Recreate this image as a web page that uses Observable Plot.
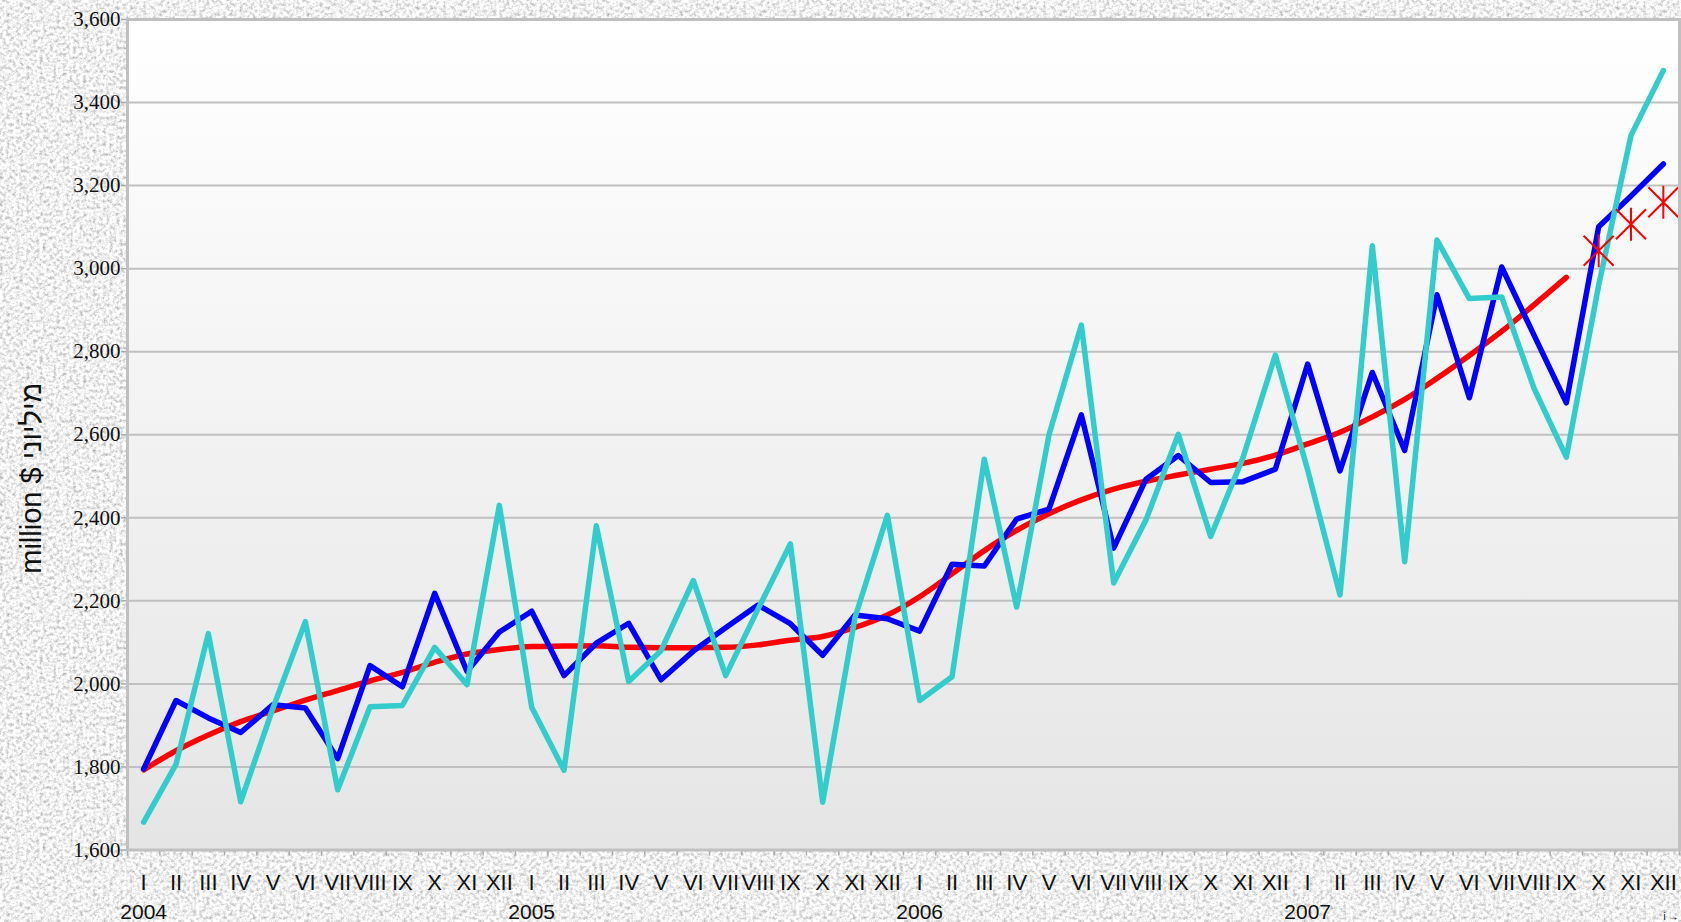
<!DOCTYPE html>
<html>
<head>
<meta charset="utf-8">
<script src="https://cdn.jsdelivr.net/npm/d3@7"></script>
<script src="https://cdn.jsdelivr.net/npm/@observablehq/plot@0.6"></script>
<style>
  html, body { margin: 0; padding: 0; overflow: hidden; }
  body { width: 1681px; height: 922px; background-color: #e2e2e2; }
  #chart svg { display: block; }
</style>
</head>
<body>
<div id="chart"></div>
<script>
// ---- data ----
const monthLabels = ["I","II","III","IV","V","VI","VII","VIII","IX","X","XI","XII"];
const years = ["2004","2005","2006","2007"];
const yTicks = [1600,1800,2000,2200,2400,2600,2800,3000,3200,3400,3600];
const yTitle = "million $ מיליוני";

// original series (turquoise)
const original = [
  1667,1806,2121,1716,1942,2150,1745,1945,1948,2088,1998,2430,
  1944,1792,2381,2006,2080,2249,2020,2180,2337,1715,2160,2406,
  1960,2017,2541,2185,2600,2864,2243,2395,2601,2355,2545,2792,
  2515,2214,3055,2294,3069,2928,2932,2712,2546,2960,3321,3477
];
// seasonally adjusted series (blue)
const seasonallyAdjusted = [
  1795,1960,1918,1883,1950,1942,1820,2044,1993,2218,2030,2125,
  2175,2020,2098,2146,2010,2079,2135,2190,2145,2069,2166,2157,
  2127,2288,2284,2397,2421,2648,2327,2493,2550,2485,2487,2517,
  2770,2513,2750,2562,2937,2689,3004,2840,2677,3101,3175,3252
];
// trend (red), I 2004 .. IX 2007
const trend = [
  1793,1839,1877,1909,1935,1961,1984,2007,2028,2052,2072,2083,
  2090,2091,2092,2088,2087,2087,2088,2094,2105,2114,2136,2166,
  2210,2265,2321,2370,2410,2443,2469,2488,2503,2517,2531,2551,
  2578,2606,2643,2685,2736,2791,2849,2913,2979
];
// trend estimates shown as star markers, X–XII 2007
const trendForecast = [3043,3107,3160];

// ---- background texture ----
const tex = `<svg xmlns='http://www.w3.org/2000/svg' width='300' height='300'>
<filter id='n' x='0' y='0' width='100%' height='100%'>
<feTurbulence type='fractalNoise' baseFrequency='0.3' numOctaves='4' seed='11' stitchTiles='stitch'/>
<feColorMatrix type='matrix' values='1.15 0 0 0 0.3  1.15 0 0 0 0.3  1.15 0 0 0 0.3  0 0 0 0 1'/>
</filter>
<rect width='300' height='300' filter='url(#n)'/>
</svg>`;
document.body.style.backgroundImage = `url("data:image/svg+xml,${encodeURIComponent(tex)}")`;

// ---- table ----
const n = original.length;
const idx = d3.range(n);
const rows = idx.map(i => ({i, original: original[i], adjusted: seasonallyAdjusted[i]}));
const trendRows = trend.map((v, i) => ({i, v}));
const forecastRows = trendForecast.map((v, k) => ({i: trend.length + k, v}));
const boundaries = d3.range(n + 1).map(k => k - 0.5);
const yearRows = years.map((y, k) => ({i: k * 12, y}));

// six-armed star symbol (X plus vertical bar)
const star = {
  draw(context, size) {
    const r = Math.sqrt(size / Math.PI);
    context.moveTo(-r, -r); context.lineTo(r, r);
    context.moveTo(-r, r); context.lineTo(r, -r);
    context.moveTo(0, -r * 1.1); context.lineTo(0, r * 1.1);
  }
};

const sans = "Liberation Sans, Arial, DejaVu Sans, sans-serif";
const serif = "Liberation Serif, Times New Roman, serif";

const plot = Plot.plot({
  width: 1681,
  height: 922,
  marginLeft: 127,
  marginRight: 2,
  marginTop: 19,
  marginBottom: 72.5,
  style: {background: "transparent", overflow: "visible"},
  x: {domain: [-0.5, n - 0.5], axis: null},
  y: {domain: [1600, 3600], axis: null},
  marks: [
    Plot.frame({fill: "url(#plotBg)"}),
    Plot.gridY(yTicks.slice(1, -1), {stroke: "#c0c0c0", strokeOpacity: 1, strokeWidth: 2}),
    Plot.axisY({ticks: yTicks, tickFormat: d3.format(","), tickSize: 6, tickPadding: 1,
      stroke: "#a8a8a8", strokeWidth: 1.5, fill: "#111", fontSize: 21, fontFamily: serif}),
    Plot.axisX({ticks: boundaries, tickFormat: () => "", tickSize: 6, stroke: "#a8a8a8", strokeWidth: 1.5}),
    Plot.text(idx, {x: d => d, text: d => monthLabels[d % 12], frameAnchor: "bottom", lineAnchor: "top",
      dy: 24, fontSize: 22, fontFamily: sans, fill: "#111", ariaLabel: "month label"}),
    Plot.text(yearRows, {x: "i", text: "y", frameAnchor: "bottom", lineAnchor: "top",
      dy: 54.5, fontSize: 21, fontFamily: sans, fill: "#111"}),
    Plot.text([yTitle], {frameAnchor: "left", textAnchor: "start", rotate: -90, dx: -96, dy: 139,
      fontSize: 29, fontFamily: sans, fill: "#111"}),
    Plot.line(trendRows, {x: "i", y: "v", stroke: "#ff0000", strokeWidth: 5.5, curve: "monotone-x",
      strokeLinecap: "round", strokeLinejoin: "round"}),
    Plot.line(rows, {x: "i", y: "adjusted", stroke: "#0000ff", strokeWidth: 5.5,
      strokeLinecap: "round", strokeLinejoin: "round"}),
    Plot.line(rows, {x: "i", y: "original", stroke: "#33cccc", strokeWidth: 5.5,
      strokeLinecap: "round", strokeLinejoin: "round"}),
    Plot.dot(forecastRows, {x: "i", y: "v", symbol: star, r: 15, fill: "none",
      stroke: "#ff0000", strokeWidth: 2}),
    Plot.frame({stroke: "#c0c0c0", strokeWidth: 3})
  ]
});

// gradient for plot area
const defs = d3.select(plot).insert("defs", ":first-child");
const grad = defs.append("linearGradient").attr("id", "plotBg")
  .attr("x1", 0).attr("y1", 0).attr("x2", 0).attr("y2", 1);
grad.append("stop").attr("offset", 0).attr("stop-color", "#ffffff");
grad.append("stop").attr("offset", 1).attr("stop-color", "#e5e5e5");

// slightly condensed month numerals
plot.querySelectorAll('text[aria-label="month label"]').forEach(t => t.style.letterSpacing = "-1.5px");

document.getElementById("chart").appendChild(plot);
</script>
</body>
</html>
